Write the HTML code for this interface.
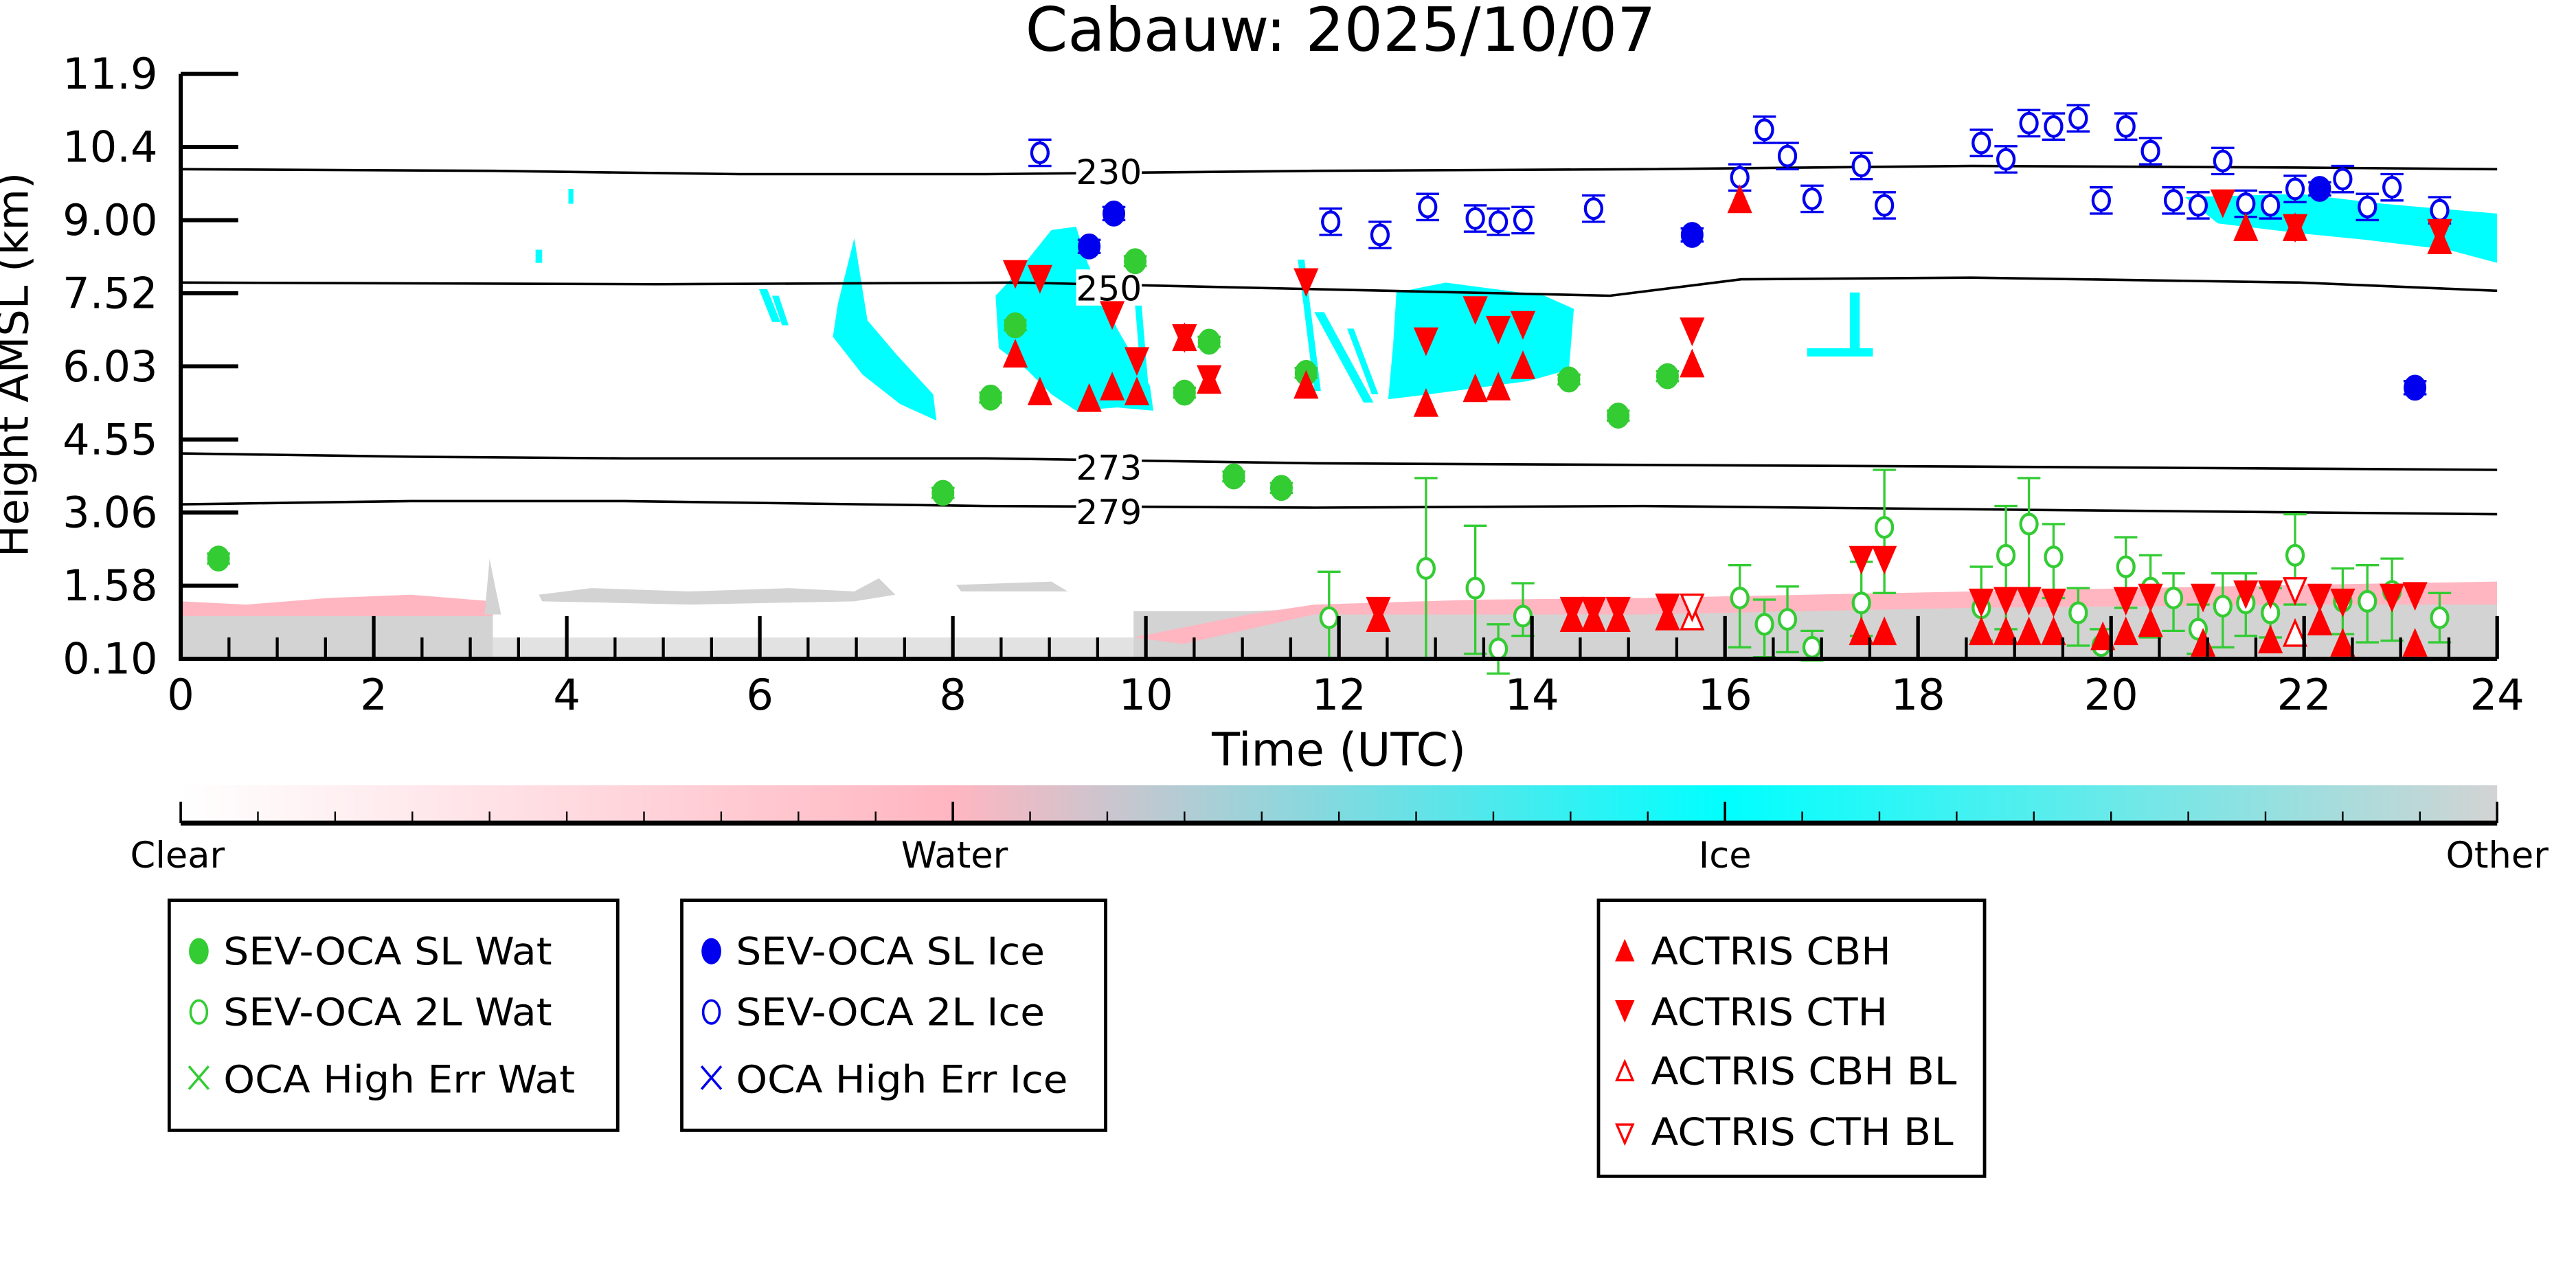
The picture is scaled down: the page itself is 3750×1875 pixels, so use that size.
<!DOCTYPE html>
<html><head><meta charset="utf-8"><style>
html,body{margin:0;padding:0;background:#fff;width:3750px;height:1875px;overflow:hidden}
svg{display:block;font-family:"DejaVu Sans","Liberation Sans",sans-serif}
</style></head><body>
<svg id="s" width="3750" height="1875" viewBox="0 0 1568 784" preserveAspectRatio="none" xmlns="http://www.w3.org/2000/svg">
<defs>
<linearGradient id="cb" x1="0" x2="1" y1="0" y2="0">
<stop offset="0" stop-color="#fff"/><stop offset="0.333" stop-color="#ffb6c1"/><stop offset="0.667" stop-color="#00ffff"/><stop offset="1" stop-color="#d3d3d3"/>
</linearGradient>
<clipPath id="pc"><rect x="110" y="45" width="1410" height="356"/></clipPath>
</defs>
<text x="816" y="31" font-size="37" text-anchor="middle">Cabauw: 2025/10/07</text>
<g id="bg" clip-path="url(#pc)"></g>
<g id="cont" fill="none" stroke="#000" stroke-width="1.5"></g>
<g id="data"></g>
<g id="axes"></g>
<text x="815" y="466" font-size="28" text-anchor="middle">Time (UTC)</text>
<text transform="translate(17,222) rotate(-90)" font-size="26" text-anchor="middle">Height AMSL (km)</text>
<rect x="110" y="478" width="1410" height="22" fill="url(#cb)"/>
<g id="cbar"></g>
<g font-size="22" text-anchor="middle">
<text x="108" y="528">Clear</text><text x="581" y="528">Water</text><text x="1050" y="528">Ice</text><text x="1520" y="528">Other</text>
</g>
<g fill="#fff" stroke="#000" stroke-width="2">
<rect x="103" y="548" width="273" height="140"/>
<rect x="415" y="548" width="258" height="140"/>
<rect x="973" y="548" width="235" height="168"/>
</g>
<g font-size="23">
<text x="136" y="587" textLength="200" lengthAdjust="spacingAndGlyphs">SEV-OCA SL Wat</text><text x="136" y="624" textLength="200" lengthAdjust="spacingAndGlyphs">SEV-OCA 2L Wat</text><text x="136" y="665" textLength="214" lengthAdjust="spacingAndGlyphs">OCA High Err Wat</text>
<text x="448" y="587" textLength="188" lengthAdjust="spacingAndGlyphs">SEV-OCA SL Ice</text><text x="448" y="624" textLength="188" lengthAdjust="spacingAndGlyphs">SEV-OCA 2L Ice</text><text x="448" y="665" textLength="202" lengthAdjust="spacingAndGlyphs">OCA High Err Ice</text>
<text x="1005" y="587" textLength="146" lengthAdjust="spacingAndGlyphs">ACTRIS CBH</text><text x="1005" y="624" textLength="144" lengthAdjust="spacingAndGlyphs">ACTRIS CTH</text><text x="1005" y="660" textLength="186" lengthAdjust="spacingAndGlyphs">ACTRIS CBH BL</text><text x="1005" y="697" textLength="184" lengthAdjust="spacingAndGlyphs">ACTRIS CTH BL</text>
</g>
<g id="leg"></g>
</svg>
<script>
var NS="http://www.w3.org/2000/svg";
function el(p,t,a){var e=document.createElementNS(NS,t);for(var k in a)e.setAttribute(k,a[k]);document.getElementById(p).appendChild(e);return e;}
el('bg','rect',{x:110,y:374,width:190,height:27,fill:'#d3d3d3'});
el('bg','path',{d:'M110 366 L150 368 L200 364 L250 362 L300 366 L300 375 L110 375Z',fill:'#ffb6c1'});
el('bg','path',{d:'M295 374 L298 340 L302 360 L305 374Z',fill:'#d3d3d3'});
el('bg','path',{d:'M328 362 L360 358 L420 360 L480 358 L520 360 L535 352 L545 362 L520 366 L420 368 L330 366Z',fill:'#d3d3d3'});
el('bg','path',{d:'M582 356 L640 354 L650 360 L585 360Z',fill:'#d3d3d3'});
el('bg','rect',{x:300,y:388,width:390,height:13,fill:'#e2e2e2'});
el('bg','path',{d:'M690 401 L690 372 L760 372 L820 370 L1000 372 L1200 368 L1400 366 L1520 366 L1520 401Z',fill:'#d3d3d3'});
el('bg','path',{d:'M690 388 L720 382 L760 374 L800 368 L900 365 L1000 364 L1100 362 L1200 360 L1300 358 L1400 356 L1520 354 L1520 368 L1400 368 L1200 370 L1000 374 L800 374 L720 392Z',fill:'#ffb6c1'});
var cy='#00ffff';
function streak(x,y,dx,dy,w){el('bg','path',{d:'M'+x+' '+y+' L'+(x+w)+' '+y+' L'+(x+w+dx)+' '+(y+dy)+' L'+(x+dx)+' '+(y+dy)+'Z',fill:cy});}
// masses
el('bg','path',{d:'M606 180 L620 165 L640 140 L655 138 L662 160 L680 200 L700 235 L702 250 L680 248 L655 250 L640 240 L625 225 L608 212Z',fill:cy});
el('bg','path',{d:'M850 178 L880 172 L910 176 L940 180 L958 188 L955 225 L930 232 L900 236 L870 240 L845 243 L848 210Z',fill:cy});
el('bg','path',{d:'M510 185 L520 145 L528 195 L545 215 L568 240 L570 256 L548 246 L525 228 L507 205Z',fill:cy});
[[462,176,8,20,5],[470,180,6,18,4],[690,175,5,60,4],
[790,158,10,80,4],[800,190,30,55,6],[820,200,15,40,4],
[1126,178,0,38,6]].forEach(function(s){streak(s[0],s[1],s[2],s[3],s[4]);});
el('bg','rect',{x:1100,y:212,width:40,height:5,fill:cy});
el('bg','path',{d:'M1330 120 L1400 118 L1450 124 L1520 130 L1520 160 L1490 152 L1440 146 L1400 142 L1350 136Z',fill:cy});
el('bg','path',{d:'M346 115 L349 115 L349 124 L346 124Z',fill:cy});el('bg','path',{d:'M326 152 L330 152 L330 160 L326 160Z',fill:cy});
[['M110 103 L300 104 L450 106 L600 106 L800 104 L1000 103 L1200 101 L1400 102 L1520 103','230',104],
['M110 172 L400 173 L620 172 L800 176 L980 180 L1060 170 L1200 169 L1400 172 L1520 177','250',175],
['M110 276 L250 278 L380 279 L600 279 L800 282 L1000 283 L1200 284 L1520 286','273',284],
['M110 307 L250 305 L380 305 L600 308 L800 309 L1000 308 L1200 310 L1520 313','279',311]
].forEach(function(c){el('cont','path',{d:c[0]});el('cont','rect',{x:655,y:c[2]-11,width:40,height:22,fill:'#fff',stroke:'none'});
var tx=el('cont','text',{x:675,y:c[2]+8,'font-size':21,'text-anchor':'middle',fill:'#000',stroke:'none'});tx.textContent=c[1];});
el('axes','path',{d:'M110 45 L110 401 L1520 401',fill:'none',stroke:'#000','stroke-width':2.5});
var yl=['11.9','10.4','9.00','7.52','6.03','4.55','3.06','1.58','0.10'];
for(var i=0;i<9;i++){var y=45+i*44.5;el('axes','line',{x1:110,x2:145,y1:y,y2:y,stroke:'#000','stroke-width':2.5});
var t=el('axes','text',{x:96,y:y+9,'font-size':26,'text-anchor':'end'});t.textContent=yl[i];}
for(var h=0;h<=48;h++){var x=110+h*1410/48;var big=h%4==0;
el('axes','line',{x1:x,x2:x,y1:401,y2:big?375:388,stroke:'#000','stroke-width':big?2.2:1.8});
if(big){var t=el('axes','text',{x:x,y:432,'font-size':26,'text-anchor':'middle'});t.textContent=h/2;}}
el('cbar','line',{x1:110,x2:1520,y1:501,y2:501,stroke:'#000','stroke-width':3});
for(var i=0;i<=30;i++){var x=110+i*47;var b=i%10==0;el('cbar','line',{x1:x,x2:x,y1:501,y2:b?488:494,stroke:'#000','stroke-width':b?1.5:1});}
function circ(x,y,fill,col,eb,ebt){ if(eb){el('data','line',{x1:x,x2:x,y1:y-(ebt||eb),y2:y+eb,stroke:col,'stroke-width':1.4});
el('data','line',{x1:x-7,x2:x+7,y1:y-(ebt||eb),y2:y-(ebt||eb),stroke:col,'stroke-width':1.4});el('data','line',{x1:x-7,x2:x+7,y1:y+eb,y2:y+eb,stroke:col,'stroke-width':1.4});}
el('data','ellipse',{cx:x,cy:y,rx:fill?6:5,ry:fill?7:6,fill:fill?col:'#fff',stroke:col,'stroke-width':1.8});}
function tri(x,y,up,fill,g,s){s=s||1;var a=6.5*s,b=6*s,c=9*s;var d=up?'M'+(x-a)+' '+(y+b)+' L'+(x+a)+' '+(y+b)+' L'+x+' '+(y-c)+'Z':'M'+(x-a)+' '+(y-b)+' L'+(x+a)+' '+(y-b)+' L'+x+' '+(y+c)+'Z';
el(g||'data','path',{d:d,fill:fill?'#f00':'#fff',stroke:'#f00','stroke-width':1.4});}
var G='#33cc33',B='#0000ee';
[[133,340],[574,300],[603,242],[618,198],[691,159],[721,239],[736,208],[751,290],[780,297],[795,227],[955,231],[985,253],[1015,229]].forEach(function(p){circ(p[0],p[1],1,G,3);});
[[663,150],[678,130],[1030,143],[1412,115],[1470,236]].forEach(function(p){circ(p[0],p[1],1,B,4);});
[[633,93],[810,135],[840,143],[869,126],[898,133],[912,135],[927,134],[970,127],[1059,108],[1074,79],[1088,95],[1103,121],[1133,101],[1147,125],[1206,87],[1221,97],[1235,75],[1250,77],[1265,72],[1279,122],[1294,77],[1309,92],[1323,122],[1338,125],[1353,98],[1367,124],[1382,125],[1397,115],[1426,109],[1441,126],[1456,114],[1485,128]].forEach(function(p){circ(p[0],p[1],0,B,8);});
[[809,376,25,28],[868,346,55,55],[898,358,40,38],[912,395,15,15],[927,375,12,20],[1059,364,30,20],[1074,380,20,15],[1088,377,20,20],[1103,394,8,10],[1133,367,20,25],[1147,321,40,35],[1206,370,20,25],[1221,338,45,30],[1235,319,40,28],[1250,339,25,20],[1265,373,20,15],[1279,393,8,10],[1294,345,25,18],[1309,358,30,20],[1323,364,20,15],[1338,383,15,15],[1353,369,25,20],[1367,367,20,18],[1382,373,15,15],[1397,338,30,25],[1426,366,20,20],[1441,366,25,22],[1456,360,30,20],[1485,376,15,15]].forEach(function(p){circ(p[0],p[1],0,G,p[2],p[3]);});
[[618,217],[633,240],[663,244],[677,237],[692,240],[721,207],[736,233],[795,236],[839,378],[868,247],[898,238],[912,237],[927,224],[957,378],[970,378],[985,378],[1015,377],[1030,223],[1059,123],[1133,386],[1147,386],[1206,386],[1221,386],[1235,386],[1250,386],[1280,389],[1294,386],[1309,381],[1341,393],[1367,140],[1382,391],[1397,140],[1412,380],[1426,393],[1470,393],[1485,148]].forEach(function(p){tri(p[0],p[1],1,1);});
[[618,165],[633,168],[677,190],[692,218],[721,204],[736,229],[795,170],[839,370],[868,206],[898,187],[912,199],[927,196],[957,370],[970,370],[985,370],[1015,368],[1030,200],[1133,339],[1147,339],[1206,365],[1221,364],[1235,364],[1250,365],[1294,364],[1309,362],[1341,362],[1353,122],[1367,360],[1382,360],[1397,137],[1412,362],[1426,365],[1456,362],[1470,361],[1485,140]].forEach(function(p){tri(p[0],p[1],0,1);});
tri(1030,377,1,0);tri(1030,368,0,0);tri(1397,387,1,0);tri(1397,358,0,0);
el('leg','ellipse',{cx:121,cy:579,rx:6,ry:8,fill:G});
el('leg','ellipse',{cx:121,cy:616,rx:5,ry:7,fill:'#fff',stroke:G,'stroke-width':1.5});
el('leg','path',{d:'M115 649 L127 663 M127 649 L115 663',stroke:G,'stroke-width':1.5});
el('leg','ellipse',{cx:433,cy:579,rx:6,ry:8,fill:B});
el('leg','ellipse',{cx:433,cy:616,rx:5,ry:7,fill:'#fff',stroke:B,'stroke-width':1.5});
el('leg','path',{d:'M427 649 L439 663 M439 649 L427 663',stroke:B,'stroke-width':1.5});
tri(989,580,1,1,'leg',0.75);tri(989,614,0,1,'leg',0.75);tri(989,653,1,0,'leg',0.75);tri(989,689,0,0,'leg',0.75);
</script>
</body></html>
